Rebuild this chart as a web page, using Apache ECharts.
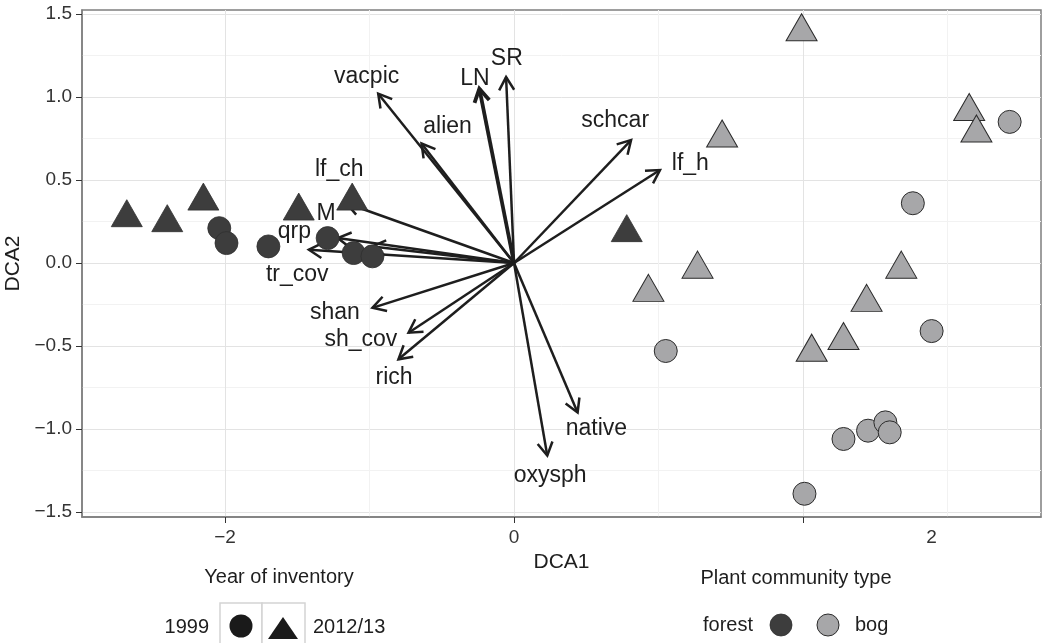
<!DOCTYPE html>
<html>
<head>
<meta charset="utf-8">
<title>DCA biplot</title>
<script src="https://cdn.jsdelivr.net/npm/echarts@6/dist/echarts.min.js"></script>
<style>
html, body { margin: 0; padding: 0; background: #fff; }
#main { width: 1043px; height: 643px; }
</style>
</head>
<body>
<div id="main"></div>
<script>
// site scores [DCA1, DCA2], split by community type and inventory year
let forest1999 = [[-2.04, 0.21], [-1.99, 0.12], [-1.70, 0.10], [-1.29, 0.15], [-1.11, 0.06], [-0.98, 0.04]];
let forest2012 = [[-2.68, 0.30], [-2.40, 0.27], [-2.15, 0.40], [-1.49, 0.34], [-1.12, 0.40], [0.78, 0.21]];
let bog1999 = [[3.43, 0.85], [2.76, 0.36], [2.89, -0.41], [2.28, -1.06], [2.45, -1.01], [2.57, -0.96], [2.60, -1.02], [2.01, -1.39], [1.05, -0.53]];
let bog2012 = [[0.93, -0.15], [1.27, -0.01], [1.99, 1.42], [3.15, 0.94], [3.20, 0.81], [1.44, 0.78], [2.68, -0.01], [2.44, -0.21], [2.28, -0.44], [2.06, -0.51]];

// fitted variables: arrow tips and where the name was printed
let vecNames = ['vacpic', 'alien', 'LN', 'SR', 'schcar', 'lf_h', 'lf_ch', 'M', 'qrp', 'tr_cov', 'shan', 'sh_cov', 'rich', 'native', 'oxysph'];
let vecTips = [[-0.94, 1.02], [-0.64, 0.72], [-0.24, 1.05], [-0.055, 1.12], [0.81, 0.74], [1.01, 0.56], [-1.16, 0.36], [-1.22, 0.15],
    [-0.98, 0.10], [-1.42, 0.08], [-0.98, -0.27], [-0.73, -0.42], [-0.80, -0.58], [0.44, -0.90], [0.23, -1.16]];
let vecLabelAt = [[-1.02, 1.12], [-0.46, 0.82], [-0.27, 1.11], [-0.05, 1.23], [0.70, 0.86], [1.22, 0.60], [-1.21, 0.56], [-1.30, 0.30],
    [-1.52, 0.19], [-1.50, -0.07], [-1.24, -0.30], [-1.06, -0.46], [-0.83, -0.69], [0.57, -1.00], [0.25, -1.28]];

// axis ticks
let xTicks = [-2, 0, 2];
let xMinorTicks = [-1, 1, 3];
let xLabelAt = [-2, 0, 2.89];
let xLabelText = ['\u22122', '0', '2'];
let yTicks = [-1.5, -1, -0.5, 0, 0.5, 1, 1.5];
let yMinorTicks = [-1.25, -0.75, -0.25, 0.25, 0.75, 1.25];

let font = "'Liberation Sans', Arial, sans-serif";
let ink = '#1e1e1e';

function fmtY(v) {
    return (v < 0 ? '\u2212' : '') + Math.abs(v).toFixed(1);
}

let hidden = {axisLine: {show: false}, axisTick: {show: false}, axisLabel: {show: false}};

let myChart = echarts.init(document.getElementById('main'));
let option = {
    animation: false,
    grid: {left: 82, right: 2, top: 10, bottom: 126, outerBoundsMode: 'none', containLabel: false,
        show: true, borderColor: '#7f7f7f', borderWidth: 1.5},
    xAxis: [{
        type: 'value', min: -2.99, max: 3.647, position: 'bottom',
        axisLine: {show: true, onZero: false, lineStyle: {color: '#7f7f7f', width: 1.5}},
        axisTick: {show: true, customValues: xTicks, length: 6, lineStyle: {color: '#333'}},
        axisLabel: {customValues: xLabelAt, formatter: v => xLabelText[xLabelAt.indexOf(v)], fontSize: 19, fontFamily: font, color: '#333', margin: 11},
        splitLine: {show: true, lineStyle: {color: '#e3e3e3', width: 1}},
        name: 'DCA1', nameLocation: 'middle', nameGap: 29,
        nameTextStyle: {fontSize: 21, fontFamily: font, color: ink}
    }, Object.assign({
        type: 'value', min: -2.99, max: 3.647, position: 'top',
        splitLine: {show: true, lineStyle: {color: '#f2f2f2', width: 1}}
    }, hidden, {axisTick: {show: false, customValues: xMinorTicks}})],
    yAxis: [{
        type: 'value', min: -1.530, max: 1.524, position: 'left',
        axisLine: {show: true, onZero: false, lineStyle: {color: '#7f7f7f', width: 1.5}},
        axisTick: {show: true, customValues: yTicks, length: 6, lineStyle: {color: '#333'}},
        axisLabel: {customValues: yTicks, formatter: fmtY, fontSize: 19, fontFamily: font, color: '#333', margin: 10},
        splitLine: {show: true, lineStyle: {color: '#e3e3e3', width: 1}},
        name: 'DCA2', nameLocation: 'middle', nameGap: 40, nameRotate: 90,
        nameTextStyle: {fontSize: 21, fontFamily: font, color: ink}
    }, Object.assign({
        type: 'value', min: -1.530, max: 1.524, position: 'right',
        splitLine: {show: true, lineStyle: {color: '#f2f2f2', width: 1}}
    }, hidden, {axisTick: {show: false, customValues: yMinorTicks}})],
    series: [
        {name: 'forest 1999', type: 'scatter', data: forest1999, symbol: 'circle', symbolSize: 23,
            itemStyle: {color: '#3d3d3d', borderColor: '#303030', borderWidth: 0.8, opacity: 1}},
        {name: 'forest 2012/13', type: 'scatter', data: forest2012, symbol: 'triangle', symbolSize: [31, 27],
            itemStyle: {color: '#3d3d3d', borderColor: '#303030', borderWidth: 0.8, opacity: 1}},
        {name: 'bog 1999', type: 'scatter', data: bog1999, symbol: 'circle', symbolSize: 23,
            itemStyle: {color: '#a7a7a9', borderColor: '#2b2b2b', borderWidth: 1, opacity: 1}},
        {name: 'bog 2012/13', type: 'scatter', data: bog2012, symbol: 'triangle', symbolSize: [31, 27],
            itemStyle: {color: '#a7a7a9', borderColor: '#2b2b2b', borderWidth: 1, opacity: 1}},
        {
            name: 'vectors', type: 'custom', silent: true,
            data: vecTips,
            renderItem: function (params, api) {
                let o = api.coord([0, 0]);
                let p = api.coord([api.value(0), api.value(1)]);
                let ang = Math.atan2(p[1] - o[1], p[0] - o[0]);
                let head = 15, spread = Math.PI / 6;
                let h1 = [p[0] - head * Math.cos(ang - spread), p[1] - head * Math.sin(ang - spread)];
                let h2 = [p[0] - head * Math.cos(ang + spread), p[1] - head * Math.sin(ang + spread)];
                let w = vecNames[params.dataIndex] === 'LN' ? 3.8 : 2.5;
                return {
                    type: 'group', children: [
                        {type: 'line', shape: {x1: o[0], y1: o[1], x2: p[0], y2: p[1]}, style: {stroke: ink, lineWidth: w}},
                        {type: 'polyline', shape: {points: [h1, p, h2]}, style: {stroke: ink, lineWidth: w, fill: null}}
                    ]
                };
            }
        },
        {
            name: 'vector names', type: 'custom', silent: true,
            data: vecLabelAt,
            renderItem: function (params, api) {
                let p = api.coord([api.value(0), api.value(1)]);
                return {
                    type: 'text', x: p[0], y: p[1],
                    style: {text: vecNames[params.dataIndex], fontSize: 23, fontFamily: font, fill: ink, align: 'center', verticalAlign: 'middle'}
                };
            }
        }
    ],
    graphic: [
        // legend: year of inventory
        {type: 'text', x: 279, y: 577, style: {text: 'Year of inventory', fontSize: 20, fontFamily: font, fill: ink, align: 'center', verticalAlign: 'middle'}},
        {type: 'rect', shape: {x: 220, y: 603, width: 42, height: 42}, style: {fill: '#fff', stroke: '#d4d4d4', lineWidth: 1.5}},
        {type: 'rect', shape: {x: 262, y: 603, width: 43, height: 42}, style: {fill: '#fff', stroke: '#d4d4d4', lineWidth: 1.5}},
        {type: 'circle', shape: {cx: 241, cy: 626, r: 11.5}, style: {fill: '#1a1a1a'}},
        {type: 'polygon', shape: {points: [[283, 617], [298, 639], [268, 639]]}, style: {fill: '#1a1a1a'}},
        {type: 'text', x: 209, y: 627, style: {text: '1999', fontSize: 20, fontFamily: font, fill: ink, align: 'right', verticalAlign: 'middle'}},
        {type: 'text', x: 313, y: 627, style: {text: '2012/13', fontSize: 20, fontFamily: font, fill: ink, align: 'left', verticalAlign: 'middle'}},
        // legend: plant community type
        {type: 'text', x: 796, y: 578, style: {text: 'Plant community type', fontSize: 20, fontFamily: font, fill: ink, align: 'center', verticalAlign: 'middle'}},
        {type: 'text', x: 703, y: 625, style: {text: 'forest', fontSize: 20, fontFamily: font, fill: ink, align: 'left', verticalAlign: 'middle'}},
        {type: 'circle', shape: {cx: 781, cy: 625, r: 11}, style: {fill: '#3d3d3d', stroke: '#303030', lineWidth: 0.8}},
        {type: 'circle', shape: {cx: 828, cy: 625, r: 11}, style: {fill: '#a7a7a9', stroke: '#2b2b2b', lineWidth: 1}},
        {type: 'text', x: 855, y: 625, style: {text: 'bog', fontSize: 20, fontFamily: font, fill: ink, align: 'left', verticalAlign: 'middle'}}
    ]
};
myChart.setOption(option, true);
</script>
</body>
</html>
